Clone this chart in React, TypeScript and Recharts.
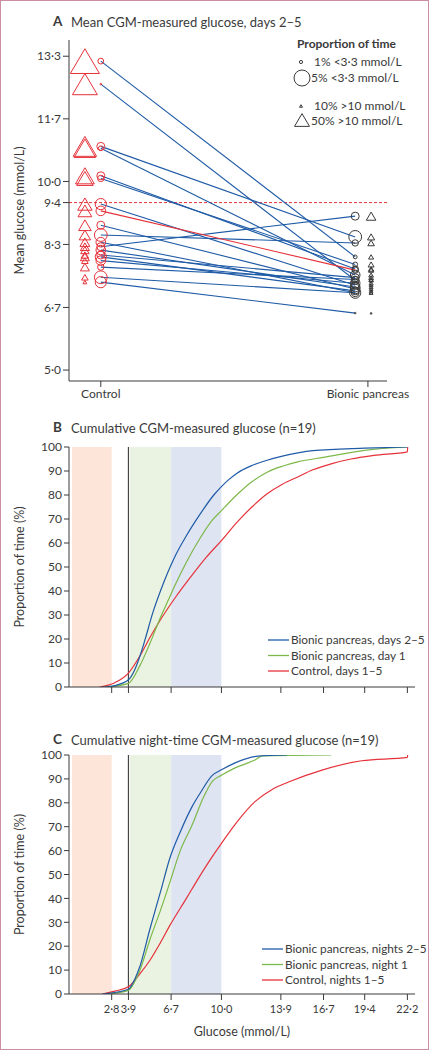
import React from 'react';
import {
  ComposedChart,
  Line,
  Scatter,
  XAxis,
  YAxis,
  ReferenceLine,
  ReferenceArea,
} from 'recharts';

const FONT = 'Lato, "Noto Sans", sans-serif';
const BLUE = '#1f5ba6';
const GREEN = '#7cb84a';
const RED = '#e6323a';
const INK = '#3a3a3a';

// ---- Panel A: mean glucose per patient, control vs bionic pancreas ----
const armLabels = ['Control', 'Bionic pancreas'];
const armTicks = [1, 9.4];
const controlMean = [13.19, 12.58, 10.93, 10.88, 10.15, 10.08, 9.4, 9.22, 8.84, 8.58, 8.39, 8.27, 8.18, 8.0, 7.9, 7.33, 7.46, 7.73, 8.05];
const bionicMean = [8.0, 7.38, 8.53, 7.52, 7.68, 7.8, 7.25, 7.65, 7.15, 8.37, 7.05, 9.08, 7.2, 7.1, 7.3, 6.51, 7.05, 7.4, 7.45];
const controlHypoPct = [1.8, 0.3, 2.5, 1.5, 2.5, 2.0, 3.5, 3.0, 2.5, 4.0, 3.0, 2.5, 3.0, 3.5, 3.0, 3.5, 4.0, 2.0, 2.5];
const controlHyperPct = [97, 83, 78, 72, 63, 55, 48, 46, 42, 38, 33, 30, 28, 30, 22, 13, 22, 30, 25];
const bionicHypoPct = [1.2, 2.5, 4.0, 3.0, 2.0, 1.5, 2.5, 2.0, 3.0, 2.0, 2.5, 2.5, 3.0, 2.5, 3.0, 0.2, 3.5, 2.0, 2.5];
const bionicHyperPct = [17, 14, 24, 16, 18, 20, 13, 17, 12, 22, 12, 32, 13, 12, 14, 5, 12, 15, 16];
const highlighted = 7;
const meanTicks = [5.0, 6.66, 8.33, 9.44, 10.0, 11.66, 13.32];
const meanTickLabels = ['5·0', '6·7', '8·3', '9·4', '10·0', '11·7', '13·3'];
const targetMean = 9.44;

// ---- Panels B & C: cumulative distributions [glucose mmol/L, % of time] ----
const dayBionic25: [number, number][] = [
  [2.2, 0], [3.0, 0.6], [3.9, 3], [4.3, 7], [4.66, 13], [5.0, 20], [5.5, 31], [6.0, 40],
  [6.5, 48], [7.0, 55], [7.7, 63], [8.6, 72], [9.5, 80], [10.0, 83.5], [10.5, 86.5],
  [11.0, 89], [12.0, 92.3], [13.0, 94.5], [14.0, 96.2], [16.0, 98.5], [19.4, 99.5], [22.2, 100],
];
const dayBionic1: [number, number][] = [
  [2.5, 0], [3.9, 1.5], [4.66, 9], [5.3, 18], [6.0, 29], [6.5, 36], [7.0, 43], [7.7, 52],
  [8.6, 62], [9.4, 69.5], [10.0, 73.5], [11.0, 80], [12.0, 85.5], [13.0, 89.5], [14.0, 92],
  [15.0, 93.8], [16.8, 95.8], [19.4, 98.6], [22.2, 100],
];
const dayControl: [number, number][] = [
  [2.0, 0], [3.0, 1.8], [3.9, 5.8], [4.66, 13], [5.3, 20.5], [6.0, 28], [7.0, 37.5], [8.0, 46],
  [9.0, 54], [10.0, 61], [11.0, 68.5], [12.0, 75], [13.0, 80.5], [14.0, 84.5], [15.0, 87.5],
  [16.0, 90.5], [17.2, 93], [18.5, 95], [20.0, 96.5], [22.2, 98], [22.22, 100],
];
const nightBionic25: [number, number][] = [
  [2.2, 0], [3.9, 2], [4.3, 6], [4.66, 11.7], [5.3, 27], [6.0, 42.7], [6.6, 56.5], [7.3, 67.8],
  [8.1, 78.7], [8.6, 84], [9.4, 91.5], [10.0, 93.8], [10.9, 96.7], [12.4, 99.5], [14.3, 100],
];
const nightBionic1: [number, number][] = [
  [2.5, 0], [3.9, 1.5], [4.3, 5], [4.66, 10], [5.3, 22.6], [6.0, 35], [6.6, 46.4], [7.3, 60],
  [8.1, 71], [8.8, 82], [9.4, 89], [10.0, 91.5], [10.9, 94.6], [12.2, 97.9], [12.7, 99.6],
  [17.2, 100],
];
const nightControl: [number, number][] = [
  [2.2, 0], [3.0, 1.2], [3.9, 3], [4.66, 8.5], [5.3, 14], [6.0, 21.5], [6.6, 28.5], [7.7, 40],
  [8.5, 48.5], [9.4, 57.5], [10.0, 63], [10.9, 71], [12.2, 80.5], [13.3, 85.5], [14.4, 88.7],
  [16.6, 93.7], [19.2, 97.6], [22.2, 99], [22.22, 100],
];
const glucoseTicks = [2.8, 3.9, 6.7, 10.0, 13.9, 16.7, 19.4, 22.2];
const glucoseTickLabels = ['2·8', '3·9', '6·7', '10·0', '13·9', '16·7', '19·4', '22·2'];
const pctTicks = [0, 10, 20, 30, 40, 50, 60, 70, 80, 90, 100];
// shaded glucose ranges [from, to, colour]
const bands: [number, number, string][] = [
  [0.2, 2.8, '#fde6d9'],
  [4.0, 6.7, '#eaf3e2'],
  [6.7, 10.0, '#dee4f2'],
];
const hypoLimit = 3.9;

const toXY = (pts: [number, number][]) => pts.map(([x, y]) => ({ x, y }));

const tickStyle = { fill: INK, fontSize: 12, fontFamily: FONT };
const glucoseTickStyle = { fill: INK, fontSize: 11, fontFamily: FONT };

const circleShape = (color: string) => (p: any) => (
  <circle cx={p.cx} cy={p.cy} r={Math.max(0.8, p.payload.pct * 1.6)} fill="none" stroke={color} strokeWidth={1} />
);

const triangleShape = (color: string) => (p: any) => {
  const w = Math.max(2, p.payload.pct * 0.3);
  const h = w * 0.85;
  const pts = `${p.cx},${p.cy - h / 2} ${p.cx - w / 2},${p.cy + h / 2} ${p.cx + w / 2},${p.cy + h / 2}`;
  return <polygon points={pts} fill="none" stroke={color} strokeWidth={1} />;
};

function Txt({ x, y, children, bold, size = 12 }: any) {
  return (
    <div
      style={{
        position: 'absolute',
        left: x,
        top: y,
        transform: 'translateY(-50%)',
        lineHeight: 1,
        whiteSpace: 'nowrap',
        fontFamily: FONT,
        fontSize: size,
        fontWeight: bold ? 700 : 400,
        color: INK,
      }}
    >
      {children}
    </div>
  );
}

function Title({ y, letter, text }: { y: number; letter: string; text: string }) {
  return (
    <>
      <Txt x={53} y={y} bold size={13.5}>{letter}</Txt>
      <Txt x={71} y={y} size={13}>{text}</Txt>
    </>
  );
}

function LegendRows({ x, y, rows }: { x: number; y: number; rows: [string, string][] }) {
  return (
    <>
      <svg width={24} height={50} style={{ position: 'absolute', left: x, top: y - 5 }}>
        {rows.map(([color], i) => (
          <line key={i} x1={0} x2={21} y1={5 + i * 15.5} y2={5 + i * 15.5} stroke={color} strokeWidth={1.3} />
        ))}
      </svg>
      {rows.map(([, label], i) => (
        <Txt key={label} x={x + 23} y={y + i * 15.5} size={11.8}>{label}</Txt>
      ))}
    </>
  );
}

function PanelA() {
  const controlCircles = controlMean.map((y, i) => ({ x: armTicks[0], y, pct: controlHypoPct[i] }));
  const controlTriangles = controlMean.map((y, i) => ({ x: armTicks[0] - 0.5, y, pct: controlHyperPct[i] }));
  const bionicCircles = bionicMean.map((y, i) => ({ x: armTicks[1] - 0.4, y, pct: bionicHypoPct[i] }));
  const bionicTriangles = bionicMean.map((y, i) => ({ x: armTicks[1] + 0.1, y, pct: bionicHyperPct[i] }));
  const order = controlMean.map((_, i) => i).filter((i) => i !== highlighted).concat([highlighted]);

  return (
    <ComposedChart width={429} height={420} margin={{ top: 40, right: 42, bottom: 9, left: 0 }}>
      <XAxis
        type="number"
        dataKey="x"
        domain={[0, 10]}
        ticks={armTicks}
        interval={0}
        tickFormatter={(v: number) => armLabels[armTicks.indexOf(v)]}
        tick={tickStyle}
        stroke={INK}
        height={30}
        allowDataOverflow
      />
      <YAxis
        type="number"
        dataKey="y"
        domain={[4.71, 13.75]}
        ticks={meanTicks}
        interval={0}
        tickFormatter={(v: number) => meanTickLabels[meanTicks.indexOf(v)]}
        tick={tickStyle}
        stroke={INK}
        width={69}
        allowDataOverflow
        label={{
          value: 'Mean glucose (mmol/L)',
          angle: -90,
          position: 'insideLeft',
          offset: 20,
          style: { textAnchor: 'middle', fill: INK, fontSize: 12.5, fontFamily: FONT },
        }}
      />
      <ReferenceLine y={targetMean} stroke={RED} strokeDasharray="3 2" strokeWidth={1} />
      {order.map((i) => (
        <Line
          key={i}
          data={[
            { x: armTicks[0], y: controlMean[i] },
            { x: armTicks[1] - 0.4, y: bionicMean[i] },
          ]}
          dataKey="y"
          type="linear"
          stroke={i === highlighted ? RED : BLUE}
          strokeWidth={1.1}
          dot={false}
          isAnimationActive={false}
        />
      ))}
      <Scatter data={controlCircles} shape={circleShape(RED)} isAnimationActive={false} />
      <Scatter data={controlTriangles} shape={triangleShape(RED)} isAnimationActive={false} />
      <Scatter data={bionicCircles} shape={circleShape(INK)} isAnimationActive={false} />
      <Scatter data={bionicTriangles} shape={triangleShape(INK)} isAnimationActive={false} />
    </ComposedChart>
  );
}

function CumulativePanel({
  series,
  height,
  axisHeight,
  showTickLabels,
}: {
  series: [[number, number][], string][];
  height: number;
  axisHeight: number;
  showTickLabels: boolean;
}) {
  return (
    <ComposedChart width={429} height={height} margin={{ top: 10, right: 14, bottom: 0, left: 0 }}>
      <XAxis
        type="number"
        dataKey="x"
        domain={[0, 22.7]}
        ticks={glucoseTicks}
        interval={0}
        tickFormatter={(v: number) => (showTickLabels ? glucoseTickLabels[glucoseTicks.indexOf(v)] : '')}
        tick={glucoseTickStyle}
        tickMargin={5}
        stroke={INK}
        height={axisHeight}
        allowDataOverflow
        label={
          showTickLabels
            ? {
                value: 'Glucose (mmol/L)',
                position: 'insideBottom',
                offset: 14,
                style: { fill: INK, fontSize: 12.5, fontFamily: FONT },
              }
            : undefined
        }
      />
      <YAxis
        type="number"
        dataKey="y"
        domain={[0, 100]}
        ticks={pctTicks}
        interval={0}
        tick={tickStyle}
        tickSize={5}
        stroke={INK}
        width={69}
        allowDataOverflow
        label={{
          value: 'Proportion of time (%)',
          angle: -90,
          position: 'insideLeft',
          offset: 20,
          style: { textAnchor: 'middle', fill: INK, fontSize: 12.5, fontFamily: FONT },
        }}
      />
      {bands.map(([a, b, c]) => (
        <ReferenceArea key={a} x1={a} x2={b} y1={0} y2={100} fill={c} fillOpacity={1} stroke="none" />
      ))}
      <ReferenceLine x={hypoLimit} stroke="#444" strokeWidth={1.2} />
      {series.map(([pts, color]) => (
        <Line
          key={color}
          data={toXY(pts)}
          dataKey="y"
          type="monotone"
          stroke={color}
          strokeWidth={1.2}
          dot={false}
          isAnimationActive={false}
        />
      ))}
    </ComposedChart>
  );
}

export default function App() {
  const legendMarks = (
    <svg width={429} height={140} style={{ position: 'absolute', left: 0, top: 0 }}>
      <circle cx={301} cy={62} r={1 * 1.6} fill="none" stroke={INK} strokeWidth={1} />
      <circle cx={302} cy={78} r={5 * 1.6} fill="none" stroke={INK} strokeWidth={1} />
      {[
        [301, 106, 10],
        [302, 120, 50],
      ].map(([cx, cy, pct]) => {
        const w = pct * 0.3;
        const h = w * 0.85;
        return (
          <polygon
            key={pct}
            points={`${cx},${cy - h / 2} ${cx - w / 2},${cy + h / 2} ${cx + w / 2},${cy + h / 2}`}
            fill="none"
            stroke={INK}
            strokeWidth={1}
          />
        );
      })}
    </svg>
  );

  return (
    <div
      style={{
        position: 'absolute',
        left: 0,
        top: 0,
        width: 429,
        height: 1050,
        background: '#fff',
        border: '1px solid #c98ea3',
        boxSizing: 'border-box',
        overflow: 'hidden',
      }}
    >
      <div style={{ position: 'absolute', left: -1, top: -1 }}>
        <PanelA />
      </div>
      <div style={{ position: 'absolute', left: -1, top: 436 }}>
        <CumulativePanel
          height={260}
          axisHeight={10}
          showTickLabels={false}
          series={[
            [dayControl, RED],
            [dayBionic1, GREEN],
            [dayBionic25, BLUE],
          ]}
        />
      </div>
      <div style={{ position: 'absolute', left: -1, top: 744 }}>
        <CumulativePanel
          height={305}
          axisHeight={56}
          showTickLabels
          series={[
            [nightControl, RED],
            [nightBionic1, GREEN],
            [nightBionic25, BLUE],
          ]}
        />
      </div>

      <div style={{ position: 'absolute', left: -1, top: -1, width: 429, height: 1050 }}>
        <Title y={22} letter="A" text="Mean CGM-measured glucose, days 2–5" />
        <Title y={428} letter="B" text="Cumulative CGM-measured glucose (n=19)" />
        <Title y={740} letter="C" text="Cumulative night-time CGM-measured glucose (n=19)" />

        {legendMarks}
        <Txt x={297} y={44} bold size={12}>Proportion of time</Txt>
        <Txt x={314} y={62} size={12}>1% &lt;3·3 mmol/L</Txt>
        <Txt x={311} y={78} size={12}>5% &lt;3·3 mmol/L</Txt>
        <Txt x={314} y={106} size={12}>10% &gt;10 mmol/L</Txt>
        <Txt x={311} y={121} size={12}>50% &gt;10 mmol/L</Txt>

        <LegendRows
          x={268}
          y={640}
          rows={[
            [BLUE, 'Bionic pancreas, days 2–5'],
            [GREEN, 'Bionic pancreas, day 1'],
            [RED, 'Control, days 1–5'],
          ]}
        />
        <LegendRows
          x={262}
          y={949}
          rows={[
            [BLUE, 'Bionic pancreas, nights 2–5'],
            [GREEN, 'Bionic pancreas, night 1'],
            [RED, 'Control, nights 1–5'],
          ]}
        />
      </div>
    </div>
  );
}
